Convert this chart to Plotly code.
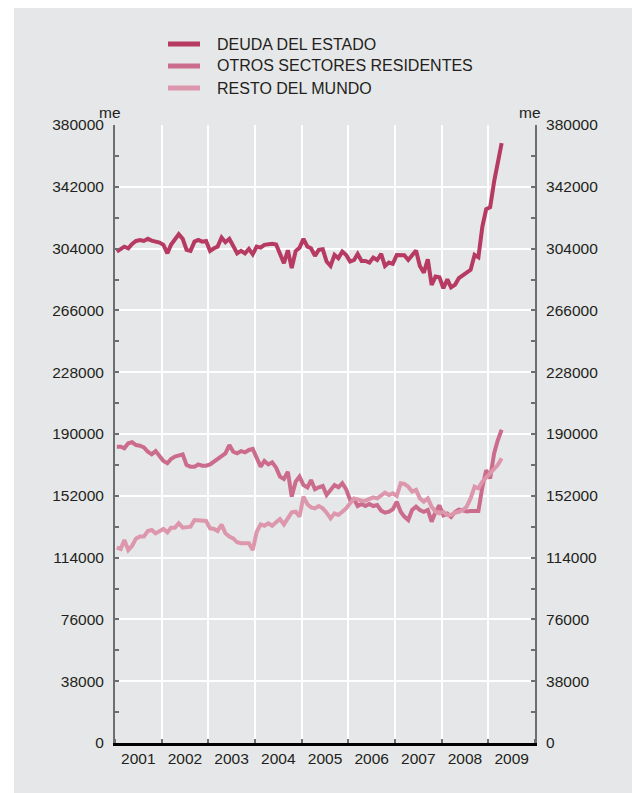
import pandas as pd
import plotly.graph_objects as go

# Monthly series, January 2001 - April 2009 (miles de euros)
months = pd.date_range("2001-01-01", periods=100, freq="MS") + pd.Timedelta(days=14)

deuda_estado = [
    302150, 303800, 305200, 304200, 306900, 308700, 309300, 308700, 310000, 308900, 308300, 307700,
    306300, 301100, 306300, 309300, 312800, 310000, 303200, 302600, 308300, 309300, 308300, 308700,
    302600, 304200, 305200, 310800, 307900, 310000, 305800, 301100, 302600, 301100, 303800, 300500,
    305200, 304600, 306300, 306700, 306900, 306500, 300500, 295000, 303000, 292000, 302500, 304500,
    310000, 305200, 304200, 299500, 303200, 303600, 296000, 293300, 300100, 298100, 302200, 300100,
    296000, 297000, 300700, 296400, 296400, 295400, 298500, 297000, 300700, 293300, 295400, 294600,
    300100, 300100, 299900, 297000, 300100, 302800, 293300, 289200, 297400, 281700, 286800, 286400,
    279600, 285100, 280200, 281700, 285800, 287200, 289200, 290900, 300100, 298700, 317500, 328200,
    329400, 345200, 358100, 368800,
]

otros_sectores = [
    182200, 182200, 181200, 184300, 184900, 183200, 182800, 181800, 179100, 177500, 179500, 176700,
    173400, 172000, 174600, 176100, 177100, 177500, 170900, 169900, 169900, 171300, 170500, 170500,
    171300, 173000, 175000, 176500, 178100, 183200, 179100, 178100, 179500, 178700, 180200, 180800,
    175000, 169900, 173400, 171300, 172600, 169300, 163800, 162300, 166800, 151500, 160700, 163800,
    158600, 157200, 161700, 156000, 157200, 158000, 152500, 155600, 158600, 157200, 159700, 156000,
    149400, 149800, 145700, 147000, 145700, 147000, 145700, 146300, 142900, 141600, 142200, 143700,
    148400, 142200, 139200, 137100, 143300, 145300, 143300, 142200, 143300, 136100, 142200, 146100,
    140000, 141000, 139000, 142000, 143500, 143100, 142400, 142600, 142600, 142600, 157400, 167800,
    162700, 178000, 186000, 192600,
]

resto_mundo = [
    120100, 119300, 124800, 118700, 121300, 125800, 126900, 126900, 130300, 131000, 128900, 129900,
    131600, 129500, 132400, 132400, 135100, 132400, 132400, 133000, 137100, 137100, 137100, 136500,
    132000, 131600, 130300, 134400, 128900, 126900, 125800, 123400, 122800, 122800, 122800, 118700,
    129900, 134400, 133600, 135100, 133600, 135700, 137700, 134400, 138500, 141800, 142200, 139200,
    151500, 146800, 144900, 144300, 145700, 144300, 141600, 138100, 141200, 140200, 142200, 144300,
    147400, 150400, 149800, 149000, 149000, 149800, 151000, 150400, 152500, 153900, 152500, 153500,
    151900, 159700, 159300, 157600, 154600, 155600, 150400, 148400, 150400, 145300, 142200, 141200,
    142200, 140200, 140200, 141600, 142200, 143300, 145300, 150400, 157600, 156600, 160700, 163400,
    165800, 168900, 170900, 175000,
]

series_names = ["DEUDA DEL ESTADO", "OTROS SECTORES RESIDENTES", "RESTO DEL MUNDO"]
y_ticks = [0, 38000, 76000, 114000, 152000, 190000, 228000, 266000, 304000, 342000, 380000]
y_tick_labels = [str(v) for v in y_ticks]
y_minor = [19000 + 38000 * k for k in range(10)]
unit_label = "me"

colors = ["#b63a61", "#cc6c8c", "#dd97ad"]
bg = "#e6e7e8"
text_color = "#231f20"
axis_gray = "#6d6e71"
font_family = "Liberation Sans, Arial, Helvetica, sans-serif"

W, H = 632, 793
L, R, T, B = 115, 97, 125, 50
pw, ph = W - L - R, H - T - B


def px_x(x):
    return (x - L) / pw


def px_y(y):
    return (H - B - y) / ph


fig = go.Figure()
for name, vals, col in zip(series_names, [deuda_estado, otros_sectores, resto_mundo], colors):
    fig.add_trace(go.Scatter(
        x=months, y=vals, name=name, mode="lines", showlegend=False,
        line=dict(color=col, width=4, shape="linear"),
    ))

# Mirror axis on the right side
fig.add_trace(go.Scatter(x=[], y=[], yaxis="y2", showlegend=False, hoverinfo="skip"))

yaxis_common = dict(
    range=[0, 380000],
    tickmode="array",
    tickvals=y_ticks,
    ticktext=y_tick_labels,
    ticks="inside",
    ticklen=4,
    tickwidth=1.5,
    tickcolor=axis_gray,
    showline=True,
    linecolor=axis_gray,
    linewidth=2,
    zeroline=False,
    tickfont=dict(size=15.5, color=text_color, family=font_family),
    minor=dict(tickvals=y_minor, ticks="inside", ticklen=4, tickwidth=1.5,
               tickcolor=axis_gray, showgrid=False),
    fixedrange=True,
)

# Background panel
shapes = [dict(
    type="rect", xref="paper", yref="paper", layer="below",
    x0=px_x(14), x1=px_x(W + 5), y0=px_y(H + 5), y1=px_y(8),
    fillcolor=bg, line=dict(width=0),
)]

annotations = [
    dict(text=unit_label, xref="paper", yref="paper", x=px_x(110), y=px_y(112),
         xanchor="center", yanchor="middle", showarrow=False,
         font=dict(size=15.5, color=text_color, family=font_family)),
    dict(text=unit_label, xref="paper", yref="paper", x=px_x(530), y=px_y(112),
         xanchor="center", yanchor="middle", showarrow=False,
         font=dict(size=15.5, color=text_color, family=font_family)),
]

# Legend: colour key and series names stacked above the plot
legend_rows = [44, 66, 88]
for name, col, row in zip(series_names, colors, legend_rows):
    shapes.append(dict(
        type="line", xref="paper", yref="paper",
        x0=px_x(168), x1=px_x(200), y0=px_y(row), y1=px_y(row),
        line=dict(color=col, width=5),
    ))
    annotations.append(dict(
        text=name, xref="paper", yref="paper", x=px_x(215), y=px_y(row),
        xanchor="left", yanchor="middle", showarrow=False,
        font=dict(size=16, color=text_color, family=font_family),
    ))

fig.update_layout(
    width=W, height=H, autosize=False,
    margin=dict(l=L, r=R, t=T, b=B, pad=0),
    paper_bgcolor="white",
    plot_bgcolor=bg,
    font=dict(family=font_family, color=text_color, size=15.5),
    xaxis=dict(
        type="date",
        range=["2001-01-01", "2010-01-01"],
        tick0="2001-01-01",
        dtick="M12",
        tickformat="%Y",
        ticklabelmode="period",
        ticks="inside",
        ticklen=4,
        tickwidth=1.5,
        tickcolor=axis_gray,
        showgrid=True,
        gridcolor="white",
        gridwidth=1.5,
        showline=True,
        linecolor="black",
        linewidth=2.5,
        tickfont=dict(size=15.5, color=text_color, family=font_family),
        fixedrange=True,
    ),
    yaxis=dict(**yaxis_common, showgrid=True, gridcolor="white", gridwidth=2,
               ticklabelstandoff=6),
    yaxis2=dict(**yaxis_common, overlaying="y", side="right", showgrid=False,
                ticklabelstandoff=6),
    showlegend=False,
    shapes=shapes,
    annotations=annotations,
)

fig.write_html("out.html")
